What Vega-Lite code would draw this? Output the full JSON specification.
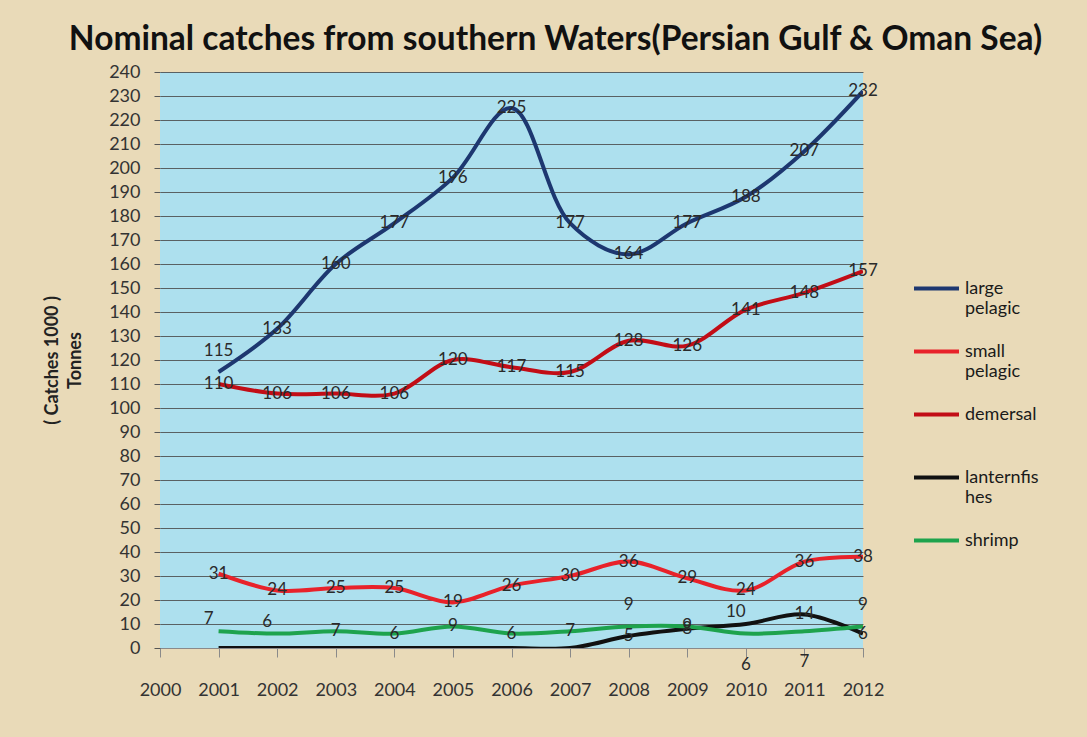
{
  "$schema": "https://vega.github.io/schema/vega-lite/v6.json",
  "autosize": {"type": "none"},
  "width": 703,
  "height": 576,
  "padding": {"left": 160, "top": 72, "right": 224, "bottom": 89},
  "background": "#e9dab8",
  "title": {
    "text": "Nominal catches from southern Waters(Persian Gulf & Oman Sea)",
    "font": "Lato",
    "fontSize": 33.5,
    "fontWeight": "bold",
    "color": "#111111",
    "anchor": "middle",
    "dx": 44,
    "offset": 6
  },
  "config": {
    "view": {"fill": "#ade0ee", "stroke": null},
    "axis": {"labelFont": "Lato", "titleFont": "Lato", "labelColor": "#333333", "titleColor": "#222222"}
  },
  "data": {
    "values": [
      {"year": 2001, "species": "large pelagic", "catch": 115},
      {"year": 2002, "species": "large pelagic", "catch": 133},
      {"year": 2003, "species": "large pelagic", "catch": 160},
      {"year": 2004, "species": "large pelagic", "catch": 177},
      {"year": 2005, "species": "large pelagic", "catch": 196},
      {"year": 2006, "species": "large pelagic", "catch": 225},
      {"year": 2007, "species": "large pelagic", "catch": 177},
      {"year": 2008, "species": "large pelagic", "catch": 164},
      {"year": 2009, "species": "large pelagic", "catch": 177},
      {"year": 2010, "species": "large pelagic", "catch": 188},
      {"year": 2011, "species": "large pelagic", "catch": 207},
      {"year": 2012, "species": "large pelagic", "catch": 232},
      {"year": 2001, "species": "demersal", "catch": 110},
      {"year": 2002, "species": "demersal", "catch": 106},
      {"year": 2003, "species": "demersal", "catch": 106},
      {"year": 2004, "species": "demersal", "catch": 106},
      {"year": 2005, "species": "demersal", "catch": 120},
      {"year": 2006, "species": "demersal", "catch": 117},
      {"year": 2007, "species": "demersal", "catch": 115},
      {"year": 2008, "species": "demersal", "catch": 128},
      {"year": 2009, "species": "demersal", "catch": 126},
      {"year": 2010, "species": "demersal", "catch": 141},
      {"year": 2011, "species": "demersal", "catch": 148},
      {"year": 2012, "species": "demersal", "catch": 157},
      {"year": 2001, "species": "small pelagic", "catch": 31},
      {"year": 2002, "species": "small pelagic", "catch": 24},
      {"year": 2003, "species": "small pelagic", "catch": 25},
      {"year": 2004, "species": "small pelagic", "catch": 25},
      {"year": 2005, "species": "small pelagic", "catch": 19},
      {"year": 2006, "species": "small pelagic", "catch": 26},
      {"year": 2007, "species": "small pelagic", "catch": 30},
      {"year": 2008, "species": "small pelagic", "catch": 36},
      {"year": 2009, "species": "small pelagic", "catch": 29},
      {"year": 2010, "species": "small pelagic", "catch": 24},
      {"year": 2011, "species": "small pelagic", "catch": 36},
      {"year": 2012, "species": "small pelagic", "catch": 38},
      {"year": 2001, "species": "lanternfishes", "catch": 0},
      {"year": 2002, "species": "lanternfishes", "catch": 0},
      {"year": 2003, "species": "lanternfishes", "catch": 0},
      {"year": 2004, "species": "lanternfishes", "catch": 0},
      {"year": 2005, "species": "lanternfishes", "catch": 0},
      {"year": 2006, "species": "lanternfishes", "catch": 0},
      {"year": 2007, "species": "lanternfishes", "catch": 0},
      {"year": 2008, "species": "lanternfishes", "catch": 5},
      {"year": 2009, "species": "lanternfishes", "catch": 8},
      {"year": 2010, "species": "lanternfishes", "catch": 10},
      {"year": 2011, "species": "lanternfishes", "catch": 14},
      {"year": 2012, "species": "lanternfishes", "catch": 6},
      {"year": 2001, "species": "shrimp", "catch": 7},
      {"year": 2002, "species": "shrimp", "catch": 6},
      {"year": 2003, "species": "shrimp", "catch": 7},
      {"year": 2004, "species": "shrimp", "catch": 6},
      {"year": 2005, "species": "shrimp", "catch": 9},
      {"year": 2006, "species": "shrimp", "catch": 6},
      {"year": 2007, "species": "shrimp", "catch": 7},
      {"year": 2008, "species": "shrimp", "catch": 9},
      {"year": 2009, "species": "shrimp", "catch": 9},
      {"year": 2010, "species": "shrimp", "catch": 6},
      {"year": 2011, "species": "shrimp", "catch": 7},
      {"year": 2012, "species": "shrimp", "catch": 9}
    ]
  },
  "encoding": {
    "x": {
      "field": "year", "type": "quantitative",
      "scale": {"domain": [2000, 2012], "nice": false, "zero": false},
      "axis": {
        "title": null, "values": [2000,2001,2002,2003,2004,2005,2006,2007,2008,2009,2010,2011,2012],
        "format": "d", "grid": false, "labelFontSize": 18, "labelPadding": 24,
        "tickSize": 9, "tickColor": "#8a8a8a", "domainColor": "#8a8a8a", "labelFlush": false
      }
    },
    "y": {
      "field": "catch", "type": "quantitative",
      "scale": {"domain": [0, 240], "nice": false},
      "axis": {
        "title": ["( Catches 1000 )", "Tonnes"],
        "titleFontSize": 18, "titleFontWeight": "bold", "titlePadding": 24, "titleLineHeight": 23,
        "values": [0,10,20,30,40,50,60,70,80,90,100,110,120,130,140,150,160,170,180,190,200,210,220,230,240],
        "labelFontSize": 18, "labelPadding": 14, "tickSize": 6, "tickColor": "#555555",
        "domain": false, "grid": true, "gridColor": "#4a4a4a", "gridOpacity": 0.85, "gridWidth": 1
      }
    }
  },
  "layer": [
    {
      "mark": {"type": "line", "interpolate": "catmull-rom", "strokeWidth": 4, "clip": true},
      "encoding": {
        "color": {
          "field": "species", "type": "nominal",
          "scale": {
            "domain": ["large pelagic", "small pelagic", "demersal", "lanternfishes", "shrimp"],
            "range": ["#1d3770", "#e8222a", "#c20d16", "#111111", "#1ea34d"]
          },
          "legend": {
            "title": null, "orient": "none", "legendX": 752, "legendY": 192,
            "symbolType": "stroke", "symbolSize": 2025, "symbolStrokeWidth": 4,
            "labelFont": "Lato", "labelFontSize": 18, "labelColor": "#1a1a1a",
            "labelExpr": "datum.label == 'large pelagic' ? ['large', 'pelagic'] : datum.label == 'small pelagic' ? ['small', 'pelagic'] : datum.label == 'lanternfishes' ? ['lanternfis', 'hes'] : [datum.label, ' ']",
            "rowPadding": 9, "labelOffset": 4, "labelLimit": 200
          }
        },
        "detail": {"field": "species"}
      }
    },
    {
      "transform": [{"filter": "datum.catch > 0 && !(datum.species == 'shrimp' && indexof([2001, 2002, 2008, 2010, 2011, 2012], datum.year) >= 0) && !(datum.species == 'lanternfishes' && datum.year == 2010) && !(datum.species == 'large pelagic' && datum.year == 2001)"}],
      "mark": {"type": "text", "font": "Lato", "fontSize": 17, "color": "#2a2a2a", "baseline": "middle"},
      "encoding": {"text": {"field": "catch", "type": "quantitative"}}
    },
    {
      "transform": [{"filter": "(datum.species == 'shrimp' && (datum.year == 2001 || datum.year == 2002)) || (datum.species == 'lanternfishes' && datum.year == 2010)"}],
      "mark": {"type": "text", "font": "Lato", "fontSize": 17, "color": "#2a2a2a", "baseline": "middle", "dy": -12, "dx": -10},
      "encoding": {"text": {"field": "catch", "type": "quantitative"}}
    },
    {
      "transform": [{"filter": "(datum.species == 'shrimp' && (datum.year == 2008 || datum.year == 2012)) || (datum.species == 'large pelagic' && datum.year == 2001)"}],
      "mark": {"type": "text", "font": "Lato", "fontSize": 17, "color": "#2a2a2a", "baseline": "middle", "dy": -21},
      "encoding": {"text": {"field": "catch", "type": "quantitative"}}
    },
    {
      "transform": [{"filter": "datum.species == 'shrimp' && (datum.year == 2010 || datum.year == 2011)"}],
      "mark": {"type": "text", "font": "Lato", "fontSize": 17, "color": "#2a2a2a", "baseline": "middle", "dy": 31},
      "encoding": {"text": {"field": "catch", "type": "quantitative"}}
    }
  ]
}
